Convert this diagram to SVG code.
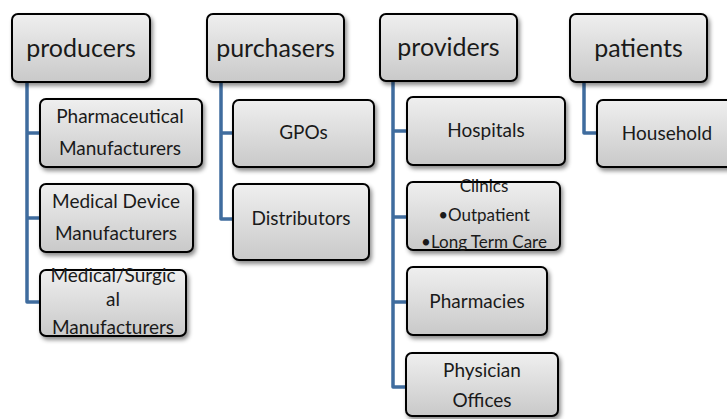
<svg xmlns="http://www.w3.org/2000/svg" width="727" height="419" viewBox="0 0 727 419">
  <defs>
    <linearGradient id="boxFill" x1="0" y1="0" x2="0" y2="1">
      <stop offset="0" stop-color="#efefef"/>
      <stop offset="1" stop-color="#c9c9c9"/>
    </linearGradient>
    <filter id="shadow" x="-10%" y="-10%" width="125%" height="135%">
      <feDropShadow dx="2" dy="3" stdDeviation="2" flood-color="#000" flood-opacity="0.45"/>
    </filter>
    <style>
      .box { fill: url(#boxFill); stroke: #000; stroke-width: 2; filter: url(#shadow); }
      .hdr { font-family: Lato, "Liberation Sans", sans-serif; font-size: 25px; fill: #1a1a1a; text-anchor: middle; }
      .lbl { font-family: Lato, "Liberation Sans", sans-serif; font-size: 19px; fill: #1a1a1a; text-anchor: middle; }
      .sm { font-family: Lato, "Liberation Sans", sans-serif; font-size: 17px; fill: #1a1a1a; text-anchor: middle; }
      .conn { fill: none; stroke: #3f6c9e; stroke-width: 3.5; stroke-linejoin: round; }
    </style>
  </defs>

  <!-- tree connectors -->
  <g id="connectors">
    <path class="conn" d="M27 82 V302 H40 M27 133 H40 M27 218 H40"/>
    <path class="conn" d="M221 82 V219 H233 M221 133 H233"/>
    <path class="conn" d="M393 81 V387 H407 M393 131 H407 M393 217 H407 M393 302 H407"/>
    <path class="conn" d="M584 82 V133 H597"/>
  </g>

  <!-- producers column -->
  <g id="producers">
    <rect class="box" x="12" y="14" width="138" height="68" rx="6"/>
    <text class="hdr" x="81" y="57">producers</text>
  </g>
  <g id="pharmaceutical-manufacturers">
    <rect class="box" x="40" y="99" width="162" height="68" rx="6"/>
    <text class="lbl" x="120" y="123">Pharmaceutical</text>
    <text class="lbl" x="120" y="155">Manufacturers</text>
  </g>
  <g id="medical-device-manufacturers">
    <rect class="box" x="40" y="184" width="153" height="68" rx="6"/>
    <text class="lbl" x="116" y="208">Medical Device</text>
    <text class="lbl" x="116" y="240">Manufacturers</text>
  </g>
  <g id="medical-surgical-manufacturers">
    <rect class="box" x="40" y="270" width="146" height="66" rx="6"/>
    <text class="lbl" x="113" y="282">Medical/Surgic</text>
    <text class="lbl" x="113" y="306">al</text>
    <text class="lbl" x="113" y="334">Manufacturers</text>
  </g>

  <!-- purchasers column -->
  <g id="purchasers">
    <rect class="box" x="207" y="14" width="137" height="68" rx="6"/>
    <text class="hdr" x="275.5" y="57">purchasers</text>
  </g>
  <g id="gpos">
    <rect class="box" x="233" y="100" width="141" height="67" rx="6"/>
    <text class="lbl" x="303.5" y="139">GPOs</text>
  </g>
  <g id="distributors">
    <rect class="box" x="233" y="184" width="136" height="76" rx="6"/>
    <text class="lbl" x="301" y="225">Distributors</text>
  </g>

  <!-- providers column -->
  <g id="providers">
    <rect class="box" x="380" y="14" width="137" height="67" rx="6"/>
    <text class="hdr" x="448.5" y="56">providers</text>
  </g>
  <g id="hospitals">
    <rect class="box" x="407" y="97" width="158" height="68" rx="6"/>
    <text class="lbl" x="486" y="137">Hospitals</text>
  </g>
  <g id="clinics">
    <rect class="box" x="407" y="182" width="153" height="68" rx="6"/>
    <text class="sm" x="484" y="192">Clinics</text>
    <text class="sm" x="484" y="221">•Outpatient</text>
    <text class="sm" x="484" y="248">•Long Term Care</text>
  </g>
  <g id="pharmacies">
    <rect class="box" x="407" y="267" width="140" height="68" rx="6"/>
    <text class="lbl" x="477" y="308">Pharmacies</text>
  </g>
  <g id="physician-offices">
    <rect class="box" x="406" y="353" width="152" height="63" rx="6"/>
    <text class="lbl" x="482" y="377">Physician</text>
    <text class="lbl" x="482" y="407">Offices</text>
  </g>

  <!-- patients column -->
  <g id="patients">
    <rect class="box" x="570" y="14" width="137" height="68" rx="6"/>
    <text class="hdr" x="638.5" y="57">patients</text>
  </g>
  <g id="household">
    <rect class="box" x="597" y="100" width="140" height="67" rx="6"/>
    <text class="lbl" x="667" y="140">Household</text>
  </g>
</svg>
